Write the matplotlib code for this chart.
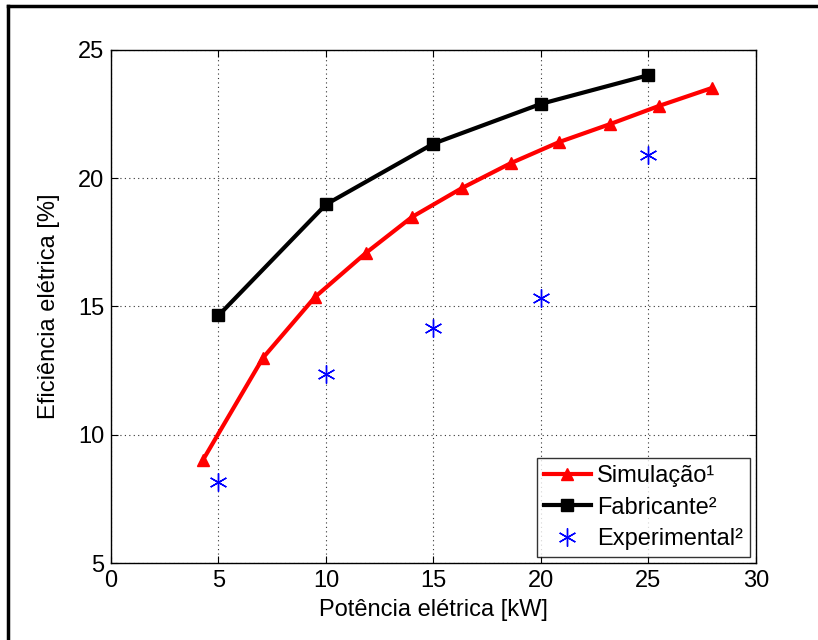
import matplotlib
matplotlib.use("Agg")
import matplotlib.pyplot as plt
from matplotlib.lines import Line2D

plt.rcParams['font.family'] = ['Liberation Sans', 'DejaVu Sans']

# Simulação (red triangles)
sim_x = [4.28, 7.07, 9.49, 11.86, 14.0, 16.33, 18.6, 20.84, 23.21, 25.49, 27.95]
sim_y = [9.02, 13.0, 15.37, 17.09, 18.49, 19.62, 20.59, 21.41, 22.11, 22.82, 23.52]

# Fabricante (black squares)
fab_x = [5, 10, 15, 20, 25]
fab_y = [14.65, 18.98, 21.35, 22.9, 24.02]

# Experimental (blue stars)
exp_x = [5, 10, 15, 20, 25]
exp_y = [8.16, 12.37, 14.16, 15.33, 20.91]

fig = plt.figure(figsize=(8.18, 6.4), dpi=100)
ax = fig.add_axes([111 / 818, 1 - 563 / 640, 645 / 818, 513 / 640])

ax.plot(sim_x, sim_y, color='red', lw=3, marker='^', ms=9, label='Simulação¹')
ax.plot(fab_x, fab_y, color='black', lw=3, marker='s', ms=8, label='Fabricante²')
ax.plot(exp_x, exp_y, ls='none', color='blue', marker=(6, 2, 0), ms=13, mew=1,
        label='Experimental²')

ax.set_xlim(0, 30)
ax.set_ylim(5, 25)
ax.set_xticks([0, 5, 10, 15, 20, 25, 30])
ax.set_yticks([5, 10, 15, 20, 25])
ax.grid(True, ls=(0, (1, 3)), color='black', lw=0.8, alpha=0.8)
ax.tick_params(direction='in', top=True, right=True, labelsize=17, length=5, pad=5)
for s in ax.spines.values():
    s.set_linewidth(1.0)

ax.set_xlabel('Potência elétrica [kW]', fontsize=17, labelpad=5)
ax.set_ylabel('Eficiência elétrica [%]', fontsize=17, labelpad=13)

leg = ax.legend(loc='lower right', fontsize=17, frameon=True, fancybox=False,
                edgecolor='black', handlelength=2.0, handletextpad=0.25,
                borderpad=0.3, labelspacing=0.4, borderaxespad=0.25)
leg.get_frame().set_linewidth(1.0)

# outer frame of the page
fig.add_artist(Line2D([8 / 818, 8 / 818], [0, 1 - 6 / 640], color='black', lw=2.5,
                      transform=fig.transFigure))
fig.add_artist(Line2D([8 / 818, 1], [1 - 6 / 640, 1 - 6 / 640], color='black', lw=2.5,
                      transform=fig.transFigure))

fig.savefig('out.png', dpi=100)
